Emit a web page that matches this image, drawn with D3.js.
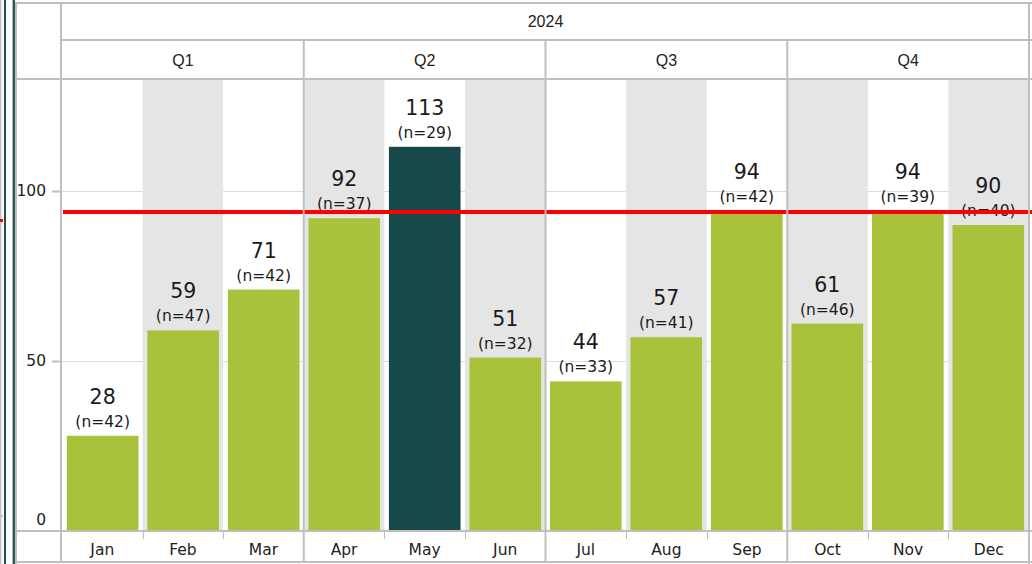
<!DOCTYPE html>
<html>
<head>
<meta charset="utf-8">
<script src="https://cdn.jsdelivr.net/npm/d3@7/dist/d3.min.js"></script>
<style>
  html, body { margin: 0; padding: 0; background: #ffffff; }
  svg { display: block; }
</style>
</head>
<body>
<svg id="chart" width="1032" height="564"></svg>
<script>
// ---- data ----
const year = "2024";
const quarters = ["Q1", "Q2", "Q3", "Q4"];
const months = ["Jan", "Feb", "Mar", "Apr", "May", "Jun", "Jul", "Aug", "Sep", "Oct", "Nov", "Dec"];
const values = [28, 59, 71, 92, 113, 51, 44, 57, 94, 61, 94, 90];
const counts = [42, 47, 42, 37, 29, 32, 33, 41, 42, 46, 39, 40];
const yTicks = [0, 50, 100];
const targetValue = 94;
const highlightMonth = "May";

// ---- layout ----
const W = 1032, H = 564;
const plotL = 62, plotR = 1029, plotT = 79, plotB = 531;
const headTop = 3, headMid = 40, bottomY = 562, frameL = 15;
const yMax = (plotB - plotT) / 3.4;

const svg = d3.select("#chart");
const grid = "#bfbfbf";
const green = "#a9c23b", teal = "#17494a", band = "#e5e5e5";
const valFont = "'DejaVu Sans', sans-serif";
const headFont = "'Liberation Sans', Arial, sans-serif";

const x = d3.scaleBand().domain(months).range([plotL, plotR]).paddingInner(0.11).paddingOuter(0.06);
const xFull = d3.scaleBand().domain(months).range([plotL, plotR]).padding(0);
const y = d3.scaleLinear().domain([0, yMax]).range([plotB, plotT]);

// left window frame artifacts
svg.append("rect").attr("x", 0).attr("y", 0).attr("width", 1.5).attr("height", H).attr("fill", "#c4c4c4");
svg.append("rect").attr("x", 4).attr("y", 0).attr("width", 2).attr("height", H).attr("fill", "#1e5050");
svg.append("rect").attr("x", 12).attr("y", 0).attr("width", 1).attr("height", H).attr("fill", "#a8b8b8");
svg.append("rect").attr("x", 13).attr("y", 0).attr("width", 2).attr("height", H).attr("fill", "#2a5a5a");
svg.append("rect").attr("x", 0).attr("y", 219).attr("width", 3).attr("height", 3).attr("fill", "#ff0000");
svg.append("rect").attr("x", 0).attr("y", 515).attr("width", 3).attr("height", 2).attr("fill", "#bfbfbf");

// gridlines (behind bands)
svg.append("g").selectAll("line").data(yTicks.filter(t => t > 0)).join("line")
  .attr("x1", plotL).attr("x2", plotR)
  .attr("y1", d => Math.round(y(d)) + 0.5).attr("y2", d => Math.round(y(d)) + 0.5)
  .attr("stroke", "#dcdcdc").attr("stroke-width", 1);

// alternating bands
svg.append("g").selectAll("rect").data(months.filter((m, i) => i % 2 === 1)).join("rect")
  .attr("x", d => xFull(d)).attr("y", plotT)
  .attr("width", xFull.bandwidth()).attr("height", plotB - plotT)
  .attr("fill", band);

// bars
const data = months.map((m, i) => ({ m, v: values[i], n: counts[i] }));
svg.append("g").selectAll("rect").data(data).join("rect")
  .attr("x", d => x(d.m)).attr("y", d => y(d.v))
  .attr("width", x.bandwidth()).attr("height", d => plotB - y(d.v))
  .attr("fill", d => d.m === highlightMonth ? teal : green);

// labels
const lab = svg.append("g").attr("text-anchor", "middle").attr("fill", "#1a1a1a").attr("font-family", valFont);
lab.selectAll("text.v").data(data).join("text").attr("class", "v")
  .attr("x", d => x(d.m) + x.bandwidth() / 2).attr("y", d => y(d.v) - 32)
  .attr("font-size", 20.5).text(d => d.v);
lab.selectAll("text.n").data(data).join("text").attr("class", "n")
  .attr("x", d => x(d.m) + x.bandwidth() / 2).attr("y", d => y(d.v) - 9)
  .attr("font-size", 15.5).text(d => `(n=${d.n})`);

// target line
svg.append("line")
  .attr("x1", plotL + 1).attr("x2", W)
  .attr("y1", y(targetValue) + 0.5).attr("y2", y(targetValue) + 0.5)
  .attr("stroke", "#ff0000").attr("stroke-width", 4);

// borders
const L = (x1, y1, x2, y2, w = 2) => svg.append("line")
  .attr("x1", x1).attr("y1", y1).attr("x2", x2).attr("y2", y2)
  .attr("stroke", grid).attr("stroke-width", w);
L(frameL, headTop, W, headTop);
L(frameL + 1, headTop, frameL + 1, bottomY + 2);
L(plotR, headTop, plotR, bottomY + 2);
L(frameL, bottomY, W, bottomY);
L(plotL - 1, headTop, plotL - 1, bottomY);
L(plotL - 1, headMid, W, headMid);
L(frameL, plotT, W, plotT);
L(frameL, plotB, W, plotB);
quarters.forEach((q, i) => {
  if (i > 0) { const xb = xFull(months[i * 3]); L(xb, headMid, xb, bottomY); }
});
months.forEach((m, i) => {
  if (i > 0 && i % 3 !== 0) { const xb = Math.round(xFull(m)) + 0.5; L(xb, plotB, xb, plotB + 8, 1); }
});

// y axis
const yAxis = svg.append("g").attr("transform", `translate(${plotL - 1},0)`)
  .call(d3.axisLeft(y).tickValues(yTicks).tickSize(9).tickPadding(6));
yAxis.select(".domain").remove();
yAxis.selectAll(".tick line").attr("stroke", grid).attr("stroke-width", 2)
  .attr("opacity", d => d === 0 ? 0 : 1);
yAxis.selectAll(".tick text").attr("font-family", valFont).attr("font-size", 15.5).attr("fill", "#222")
  .attr("dy", d => d === 0 ? "-0.45em" : "0.32em");

// x axis labels
const xAxis = svg.append("g").attr("transform", `translate(0,${plotB})`)
  .call(d3.axisBottom(xFull).tickSize(0).tickPadding(13));
xAxis.select(".domain").remove();
xAxis.selectAll(".tick text").attr("font-family", valFont).attr("font-size", 15.5).attr("fill", "#222");

// headers
svg.append("text").attr("x", (plotL + plotR) / 2).attr("y", 27)
  .attr("text-anchor", "middle").attr("font-family", headFont).attr("font-size", 16).attr("fill", "#222")
  .text(year);
svg.append("g").selectAll("text").data(quarters).join("text")
  .attr("x", (d, i) => (xFull(months[i * 3]) + xFull(months[i * 3 + 2]) + xFull.bandwidth()) / 2)
  .attr("y", 66).attr("text-anchor", "middle")
  .attr("font-family", headFont).attr("font-size", 16).attr("fill", "#222")
  .text(d => d);
</script>
</body>
</html>
